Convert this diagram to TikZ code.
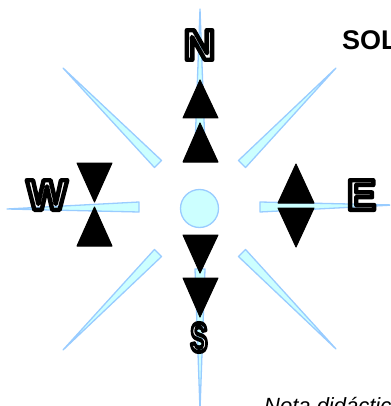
\documentclass[tikz,border=0pt]{standalone}
\usepackage{fontspec}
\setmainfont{Liberation Sans}
\usetikzlibrary{calc}
\definecolor{rayfill}{HTML}{CCFFFF}
\definecolor{rayline}{HTML}{99CCFF}
\newcommand{\hollow}[1]{\special{pdf:literal direct 1 Tr 4.4 w 1 j 0 0 0 RG}#1\special{pdf:literal direct 0 Tr}}
\begin{document}
\begin{tikzpicture}[x=1pt,y=-1pt,
  ray/.style={fill=rayfill,draw=rayline,line width=1.3pt,line join=round},
  tri/.style={fill=black,draw=black,line width=1pt,line join=round},
  card/.style={font=\fontsize{43}{43}\selectfont\bfseries,inner sep=0pt,text=black}]
\useasboundingbox (0,0) rectangle (390,406);
\clip (0,0) rectangle (390,406);
% ray end points: wide end (a) and thin end (b)
\coordinate (wa) at (139,207); \coordinate (wb) at (7,209);
\coordinate (ea) at (260,207); \coordinate (eb) at (394,205);
\coordinate (na) at (200,147); \coordinate (nb) at (200,9);
\coordinate (sa) at (200,269); \coordinate (sb) at (200,410);
\coordinate (nwa) at (158,164); \coordinate (nwb) at (63,68);
\coordinate (nea) at (242,164); \coordinate (neb) at (336,68);
\coordinate (swa) at (158,253); \coordinate (swb) at (63,350);
\coordinate (sea) at (242,253); \coordinate (seb) at (336,349);
\foreach \r in {w,e,n,s,nw,ne,sw,se}{
  \draw[ray] ($(\r a)!5pt!90:(\r b)$) -- (\r b) -- ($(\r a)!5pt!-90:(\r b)$) -- cycle;
}
\node[circle,minimum size=38pt,inner sep=0pt,fill=rayfill,draw=rayline,line width=1.3pt] (sun) at (199.5,208.5) {};
% north triangles
\draw[tri] (200,80) -- (218,118) -- (183,118) -- cycle;
\draw[tri] (200,123) -- (218,162) -- (183,162) -- cycle;
% south triangles
\draw[tri] (183,235) -- (218,235) -- (200,273) -- cycle;
\draw[tri] (183,278) -- (218,278) -- (200,317) -- cycle;
% west triangles
\draw[tri] (77,163) -- (112,163) -- (94.5,202) -- cycle;
\draw[tri] (94.5,207) -- (112,246) -- (77,246) -- cycle;
% east triangles
\draw[tri] (296,164) -- (314,203) -- (278,203) -- cycle;
\draw[tri] (278,208) -- (314,208) -- (296,247) -- cycle;
% letters
\node[card] (N) at (199.5,45) {\hollow{N}};
\node[card] (W) at (47,195) {\hollow{W}};
\node[card] (E) at (361.5,195) {\hollow{E}};
\node[card] (S) at (199,337.5) {\scalebox{0.6}[0.95]{\hollow{S}}};
\node[anchor=base west,inner sep=0pt,font=\fontsize{27}{27}\selectfont\bfseries] (sol) at (342,49.5) {SOL};
\node[anchor=base west,inner sep=0pt,font=\fontsize{22}{22}\selectfont\itshape] (nota) at (264,413) {Nota didáctica};
\end{tikzpicture}
\end{document}
